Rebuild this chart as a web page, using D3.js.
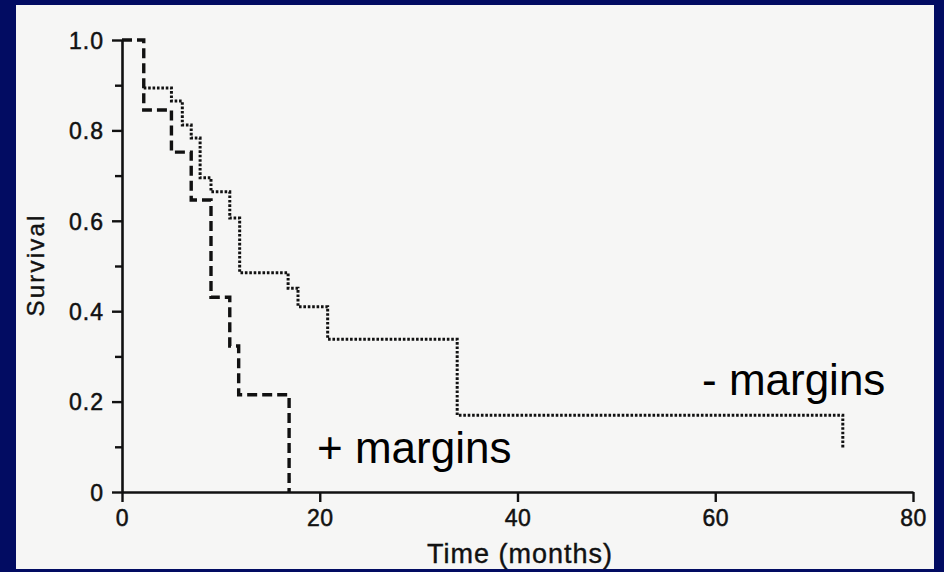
<!DOCTYPE html>
<html>
<head>
<meta charset="utf-8">
<script src="https://cdn.jsdelivr.net/npm/d3@7"></script>
<style>
  html, body { margin: 0; padding: 0; background: #020c62; }
  svg { display: block; }
  text { font-family: "Liberation Sans", Arial, Helvetica, sans-serif; fill: #111; }
</style>
</head>
<body>
<svg id="chart" width="944" height="572"></svg>
<script>
// ---- data ----
const plusTimes  = [0, 2.2, 5.0, 7.0, 9.0, 10.9, 11.8, 16.9];
const plusSurv   = [1.0, 0.845, 0.752, 0.646, 0.431, 0.323, 0.215, 0];
const minusTimes = [0, 2.2, 5.0, 6.1, 7.0, 7.9, 9.0, 10.9, 11.9, 16.8, 17.8, 20.8, 33.9, 72.9];
const minusSurv  = [1.0, 0.894, 0.865, 0.812, 0.783, 0.695, 0.664, 0.606, 0.485, 0.451, 0.41, 0.338, 0.17, 0.095];
const yMajorTicks = [0, 0.2, 0.4, 0.6, 0.8, 1.0];
const yTickLabels = ["0", "0.2", "0.4", "0.6", "0.8", "1.0"];
const yMinorTicks = [0.1, 0.3, 0.5, 0.7, 0.9];
const xTicks = [0, 20, 40, 60, 80];
const xTickLabels = ["0", "20", "40", "60", "80"];
const xTitle = "Time (months)";
const yTitle = "Survival";
const plusLabel = "+ margins";
const minusLabel = "- margins";

const svg = d3.select("#chart");

// background frame + scanned paper
svg.append("rect").attr("x", 0).attr("y", 0).attr("width", 944).attr("height", 572).attr("fill", "#020c62");
svg.append("rect").attr("x", 16).attr("y", 5).attr("width", 918).attr("height", 564).attr("fill", "#f6f6f5");

const x = d3.scaleLinear().domain([0, 80]).range([122, 913]);
const y = d3.scaleLinear().domain([0, 1]).range([492, 40]);

// y axis
const yAxis = d3.axisLeft(y)
  .tickValues(yMajorTicks)
  .tickFormat((d, i) => yTickLabels[i])
  .tickSize(10).tickSizeOuter(0).tickPadding(8);
const gy = svg.append("g").attr("transform", "translate(122,0)").call(yAxis);
gy.selectAll("text").style("font-size", "23px").style("letter-spacing", "1px")
  .style("stroke", "#111").style("stroke-width", "0.5px").attr("dy", "0.36em");

const yMinor = d3.axisLeft(y).tickValues(yMinorTicks).tickFormat("").tickSize(7).tickSizeOuter(0);
const gym = svg.append("g").attr("transform", "translate(122,0)").call(yMinor);
gym.select(".domain").remove();

// x axis
const xAxis = d3.axisBottom(x)
  .tickValues(xTicks)
  .tickFormat((d, i) => xTickLabels[i])
  .tickSize(10).tickSizeOuter(0).tickPadding(8);
const gx = svg.append("g").attr("transform", "translate(0,492)").call(xAxis);
gx.selectAll("text").style("font-size", "23px").style("letter-spacing", "0.5px")
  .style("stroke", "#111").style("stroke-width", "0.5px");

[gy, gym, gx].forEach(g => {
  g.selectAll("line").attr("stroke", "#111").attr("stroke-width", 2.4);
  g.selectAll(".domain").attr("stroke", "#111").attr("stroke-width", 2.6);
});

// curves
const line = d3.line().x(d => x(d[0])).y(d => y(d[1])).curve(d3.curveStepAfter);
const minusData = minusTimes.map((t, i) => [t, minusSurv[i]]);
const plusData = plusTimes.map((t, i) => [t, plusSurv[i]]);

// dotted (- margins); the shared first step is drawn by the dashed line
svg.append("path")
  .attr("d", line(minusData.slice(1)))
  .attr("fill", "none").attr("stroke", "#111")
  .attr("stroke-width", 3).attr("stroke-dasharray", "2.6,1.8");

svg.append("path")
  .attr("d", line(plusData))
  .attr("fill", "none").attr("stroke", "#111")
  .attr("stroke-width", 3.4).attr("stroke-dasharray", "10,5");

// titles
svg.append("text")
  .attr("x", 520).attr("y", 563).attr("text-anchor", "middle")
  .style("font-size", "27px").style("letter-spacing", "1px")
  .style("stroke", "#111").style("stroke-width", "0.4px")
  .text(xTitle);

svg.append("text")
  .attr("transform", "translate(44,265) rotate(-90)")
  .attr("text-anchor", "middle")
  .style("font-size", "24px").style("letter-spacing", "2.2px")
  .style("stroke", "#111").style("stroke-width", "0.4px")
  .text(yTitle);

// curve labels
svg.append("text")
  .attr("x", 317).attr("y", 463)
  .style("font-size", "44px").style("fill", "#000")
  .text(plusLabel);

svg.append("text")
  .attr("x", 702).attr("y", 395)
  .style("font-size", "44px").style("fill", "#000")
  .text(minusLabel);
</script>
</body>
</html>
